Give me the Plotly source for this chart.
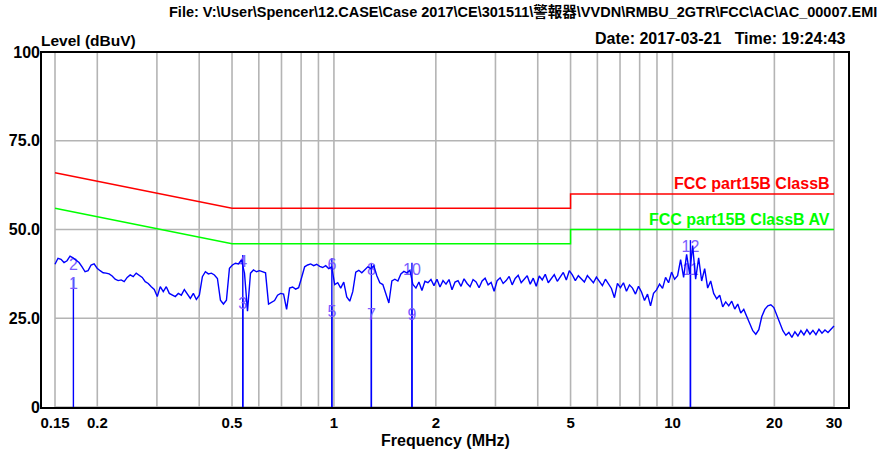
import numpy as np
import plotly.graph_objects as go

# ---------------- data ----------------
START_MHZ, STOP_MHZ = 0.15, 30.0

level_dbuv = [
    40.2, 41.9, 41.6, 40.7, 41.2, 42.5, 42.0, 41.4, 40.7, 39.5,
    38.1, 38.4, 40.0, 40.3, 39.1, 38.4, 37.8, 37.7, 37.5, 36.9,
    36.0, 35.6, 35.8, 35.3, 36.5, 37.2, 36.7, 37.7, 37.2, 36.5,
    35.3, 34.8, 33.9, 33.1, 31.1, 33.9, 32.5, 33.9, 32.0, 31.5,
    31.1, 32.0, 31.5, 33.1, 32.0, 30.6, 32.0, 30.3, 31.5, 36.7,
    38.1, 37.5, 37.7, 37.2, 36.2, 30.1, 29.0, 30.1, 39.1, 40.0,
    40.5, 40.3, 41.4, 37.7, 27.0, 37.7, 38.6, 38.1, 38.4, 38.0,
    37.8, 29.0, 29.5, 30.0, 31.5, 32.0, 31.8, 27.5, 33.5, 33.8,
    33.2, 33.6, 36.5, 39.5, 40.0, 40.3, 39.8, 40.2, 39.6, 39.3,
    39.8, 39.0, 39.5, 34.5, 35.0, 33.5, 35.2, 31.0, 29.8, 32.5,
    38.0, 38.5, 37.8, 38.8, 39.5, 39.0, 39.8, 37.0, 35.0, 34.5,
    32.0, 29.3, 35.5, 36.0, 35.5, 37.5, 38.2, 37.8, 38.5, 34.5,
    33.5, 35.2, 32.8, 35.4, 35.0, 35.9, 34.2, 36.0, 33.8, 35.6,
    34.6, 35.9, 33.0, 35.2, 35.6, 34.0, 36.1, 34.8, 33.9, 35.9,
    35.2, 33.6, 35.5, 36.3, 34.4, 35.1, 32.6, 35.6, 36.4, 34.8,
    35.6, 36.8, 34.4, 36.2, 37.1, 35.0, 36.0, 37.0, 34.6, 36.3,
    34.0, 36.9, 35.8, 37.4, 35.0, 36.2, 37.3, 35.4, 36.6, 37.9,
    35.8, 38.4, 37.2, 35.6, 37.0, 36.1, 35.2, 37.0, 36.0, 35.0,
    36.6, 35.3, 34.2, 36.0, 34.8, 33.4, 30.8, 34.8, 33.6, 35.0,
    32.6, 34.4, 33.5, 31.8, 34.0, 32.4, 30.0, 31.8, 28.5, 32.0,
    33.0, 34.6, 33.4, 36.5, 35.0, 38.0, 36.0, 37.0, 41.5, 36.5,
    43.0, 37.5, 45.5, 36.0, 42.0, 35.5, 39.0, 33.5, 35.5, 32.0,
    30.5, 31.5, 28.2, 29.6, 28.5, 29.8, 27.6, 29.0, 26.5, 27.5,
    25.5, 23.5, 21.5, 20.5, 21.8, 25.5, 27.5, 28.5, 28.8, 28.0,
    26.0, 23.8, 21.5, 20.2, 21.0, 19.6, 21.2, 20.0, 21.5, 20.3,
    21.8, 20.5, 21.6, 20.4, 21.9, 20.8, 21.7, 21.0, 22.0, 22.8,
]

# limit lines
qp_limit_freq = [0.15, 0.5, 0.5, 5.0, 5.0, 30.0]
qp_limit_level = [66.0, 56.0, 56.0, 56.0, 60.0, 60.0]
av_limit_freq = [0.15, 0.5, 0.5, 5.0, 5.0, 30.0]
av_limit_level = [56.0, 46.0, 46.0, 46.0, 50.0, 50.0]
qp_limit_name = "FCC part15B ClassB"
av_limit_name = "FCC part15B ClassB AV"

# markers
marker_no = ["1", "2", "3", "4", "5", "6", "7", "8", "9", "10", "11", "12"]
marker_freq = [0.170, 0.170, 0.538, 0.538, 0.986, 0.986, 1.29, 1.29, 1.70, 1.70, 11.3, 11.3]
marker_level = [36.5, 42.0, 31.0, 42.8, 28.7, 42.0, 27.9, 40.6, 27.9, 40.6, 40.5, 47.0]
marker_line = [True, False, True, True, True, True, True, True, True, True, True, True]

# axes
x_grid = [0.15, 0.2, 0.3, 0.4, 0.5, 0.6, 0.7, 0.8, 0.9, 1, 2, 3, 4, 5, 6, 7, 8, 9, 10, 20, 30]
x_tick_vals = [0.15, 0.2, 0.5, 1, 2, 5, 10, 20, 30]
x_tick_text = ["0.15", "0.2", "0.5", "1", "2", "5", "10", "20", "30"]
y_tick_vals = [0, 25, 50, 75, 100]
y_tick_text = ["0", "25.0", "50.0", "75.0", "100"]

file_text = "File: V:\\User\\Spencer\\12.CASE\\Case 2017\\CE\\301511\\警報器\\VVDN\\RMBU_2GTR\\FCC\\AC\\AC_00007.EMI"
date_text = "Date: 2017-03-21&nbsp;&nbsp;&nbsp;Time: 19:24:43"

# ---------------- figure ----------------
sweep_freq = np.geomspace(START_MHZ, STOP_MHZ, len(level_dbuv))

TXT = "Liberation Sans, Arial, Noto Sans CJK TC, sans-serif"
REG = "Liberation Sans, Arial, sans-serif"
BLUE = "#0000ff"
MKC = "#7b5cff"
GRID = "#b4b4b4"

W, H = 882, 452
L, R, T, B = 41, 849, 52, 408


def px_x(p):
    return (p - L) / (R - L)


def px_y(p):
    return (B - p) / (B - T)


fig = go.Figure()

shapes = []
for f in x_grid:
    shapes.append(dict(type="line", xref="x", yref="y", x0=f, x1=f, y0=0, y1=100,
                       line=dict(color=GRID, width=1.6), layer="below"))
for v in y_tick_vals:
    shapes.append(dict(type="line", xref="x", yref="y", x0=START_MHZ, x1=STOP_MHZ, y0=v, y1=v,
                       line=dict(color=GRID, width=1.6), layer="below"))
shapes.append(dict(type="rect", xref="paper", yref="paper", x0=0, x1=1, y0=0, y1=1,
                   line=dict(color="black", width=2), layer="above"))

# marker lines
for f, v, show in zip(marker_freq, marker_level, marker_line):
    if show:
        shapes.append(dict(type="line", xref="x", yref="y", x0=f, x1=f, y0=0, y1=v,
                           line=dict(color=BLUE, width=1.4), layer="below"))

fig.add_trace(go.Scatter(x=qp_limit_freq, y=qp_limit_level, mode="lines",
                         line=dict(color="#ff0000", width=1.5), hoverinfo="skip"))
fig.add_trace(go.Scatter(x=av_limit_freq, y=av_limit_level, mode="lines",
                         line=dict(color="#00ff00", width=1.5), hoverinfo="skip"))
# marker numbers (drawn under the measured trace, as in the reference)
fig.add_trace(go.Scatter(x=marker_freq, y=marker_level, mode="text", text=marker_no,
                         textposition="bottom center",
                         textfont=dict(family=REG, size=16, color=MKC), hoverinfo="skip"))
fig.add_trace(go.Scatter(x=sweep_freq, y=level_dbuv, mode="lines",
                         line=dict(color=BLUE, width=1.4)))

ann = []
ann.append(dict(x=np.log10(STOP_MHZ), y=qp_limit_level[-1], xref="x", yref="y",
                text="<b>" + qp_limit_name + "</b>",
                showarrow=False, xanchor="right", yanchor="bottom", xshift=-2, yshift=0,
                font=dict(family=REG, size=16, color="#ff0000")))
ann.append(dict(x=np.log10(STOP_MHZ), y=av_limit_level[-1], xref="x", yref="y",
                text="<b>" + av_limit_name + "</b>",
                showarrow=False, xanchor="right", yanchor="bottom", xshift=-2, yshift=0,
                font=dict(family=REG, size=16, color="#00ff00")))

ann.append(dict(x=px_x(879), y=px_y(12), xref="paper", yref="paper", text="<b>" + file_text + "</b>",
                showarrow=False, xanchor="right", yanchor="middle",
                font=dict(family=TXT, size=14.5, color="black")))
ann.append(dict(x=px_x(848), y=px_y(38), xref="paper", yref="paper", text="<b>" + date_text + "</b>",
                showarrow=False, xanchor="right", yanchor="middle",
                font=dict(family=TXT, size=16, color="black")))
ann.append(dict(x=px_x(39), y=px_y(41), xref="paper", yref="paper", text="<b>Level (dBuV)</b>",
                showarrow=False, xanchor="left", yanchor="middle",
                font=dict(family=TXT, size=15.5, color="black")))
ann.append(dict(x=px_x(445), y=px_y(440), xref="paper", yref="paper", text="<b>Frequency (MHz)</b>",
                showarrow=False, xanchor="center", yanchor="middle",
                font=dict(family=TXT, size=16, color="black")))

x_lo = np.log10(START_MHZ) - 14 / 338.5
x_hi = np.log10(STOP_MHZ) + 15 / 338.5

fig.update_layout(
    width=W, height=H,
    margin=dict(l=L, r=W - R, t=T, b=H - B, pad=0),
    paper_bgcolor="white", plot_bgcolor="white",
    showlegend=False,
    shapes=shapes, annotations=ann,
    xaxis=dict(type="log", range=[x_lo, x_hi], showgrid=False, zeroline=False, automargin=False,
               tickvals=x_tick_vals, ticktext=["<b>%s</b>" % t for t in x_tick_text],
               tickfont=dict(family=TXT, size=15, color="black"), ticks="", showline=False,
               ticklabelstandoff=4),
    yaxis=dict(range=[-0.28, 100], showgrid=False, zeroline=False, automargin=False,
               tickvals=y_tick_vals, ticktext=["<b>%s</b>" % t for t in y_tick_text],
               tickfont=dict(family=TXT, size=16, color="black"), ticks="", showline=False),
)

fig.write_html("out.html", config={"displayModeBar": False},
               post_script="document.body.style.margin='0px';document.body.style.padding='0px';")
